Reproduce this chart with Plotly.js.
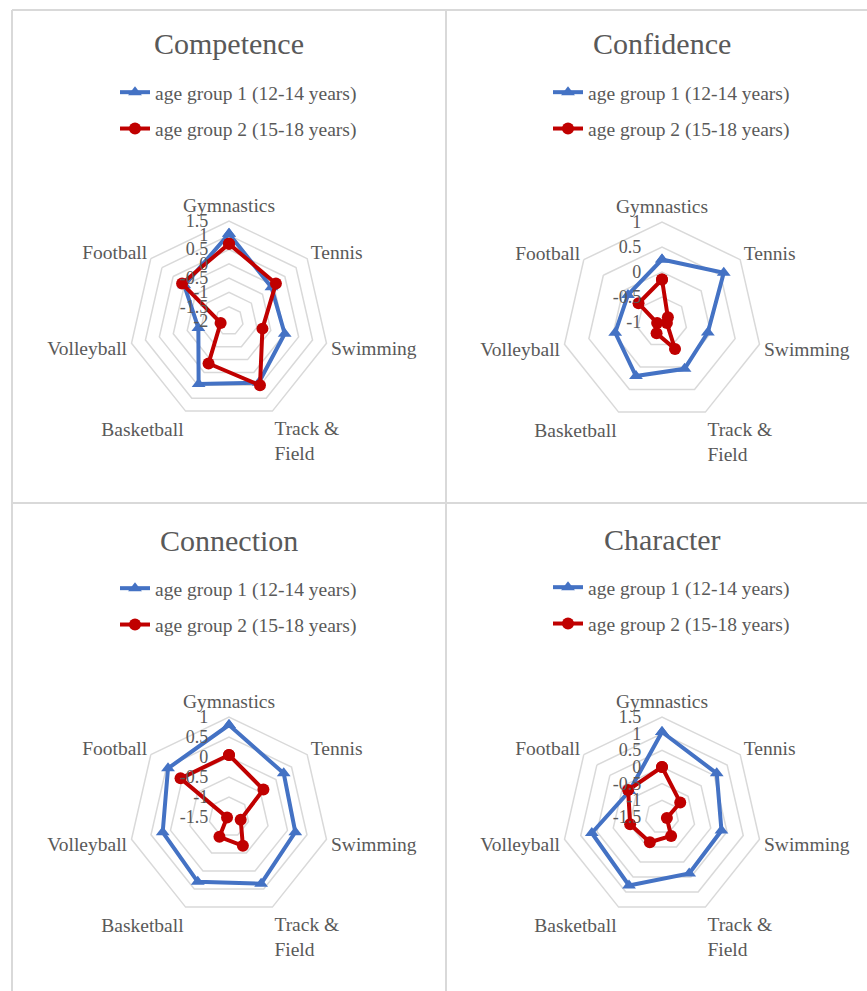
<!DOCTYPE html>
<html>
<head>
<meta charset="utf-8">
<script src="https://cdn.plot.ly/plotly-3.0.1.min.js"></script>
<style>
html,body{margin:0;padding:0;background:#fff;}
#chart{width:867px;height:991px;}
</style>
</head>
<body>
<div id="chart"></div>
<script>
// ---------- DATA ----------
const categories = ['Gymnastics', 'Tennis', 'Swimming', 'Track &<br>Field', 'Basketball', 'Volleyball', 'Football'];
const seriesNames = ['age group 1 (12-14 years)', 'age group 2 (15-18 years)'];
const chartTitles = ['Competence', 'Confidence', 'Connection', 'Character'];

const competenceG1 = [1.05, -0.1, 0.0, 0.4, 0.45, -0.9, 0.0];
const competenceG2 = [0.7, 0.1, -0.8, 0.5, -0.35, -1.7, 0.1];
const confidenceG1 = [0.25, 0.58, -0.06, 0.04, 0.2, -0.04, -0.13];
const confidenceG2 = [-0.15, -0.85, -0.9, -0.4, -0.75, -0.9, -0.4];
const connectionG1 = [0.8, 0.25, 0.2, 0.35, 0.3, 0.2, 0.45];
const connectionG2 = [0.05, -0.4, -1.2, -0.7, -0.95, -1.45, 0.05];
const characterG1 = [1.05, 0.6, 0.33, 0.38, 0.78, 0.66, -0.25];
const characterG2 = [0.0, -0.8, -1.35, -0.87, -0.66, -0.52, -0.2];

const competenceTicks = ['-2', '-1.5', '-1', '-0.5', '0', '0.5', '1', '1.5'];
const confidenceTicks = ['-1', '-0.5', '0', '0.5', '1'];
const connectionTicks = ['-1.5', '-1', '-0.5', '0', '0.5', '1'];
const characterTicks = ['-1.5', '-1', '-0.5', '0', '0.5', '1', '1.5'];

// ---------- LAYOUT HELPERS ----------
const W = 867, H = 991;
const FONT = 'Liberation Serif, Times New Roman, serif';
const TEXT = '#595959';
const GRID = '#d9d9d9';
const BLUE = '#4472C4';
const RED = '#C00000';

const panels = [
  {g1: competenceG1, g2: competenceG2, ticks: competenceTicks, cx: 229, cy: 321, ty: 44},
  {g1: confidenceG1, g2: confidenceG2, ticks: confidenceTicks, cx: 662, cy: 322, ty: 44},
  {g1: connectionG1, g2: connectionG2, ticks: connectionTicks, cx: 229, cy: 817, ty: 540},
  {g1: characterG1, g2: characterG2, ticks: characterTicks, cx: 662, cy: 817, ty: 539}
];
const R = 100;

function closed(a) { return a.concat([a[0]]); }
const px = x => x / W;
const py = y => 1 - y / H;

const data = [];
const layout = {
  width: W, height: H,
  margin: {l: 0, r: 0, t: 0, b: 0},
  paper_bgcolor: '#fff',
  showlegend: true,
  font: {family: FONT, color: TEXT, size: 19},
  annotations: [],
  shapes: []
};

panels.forEach((p, i) => {
  const pid = i === 0 ? 'polar' : 'polar' + (i + 1);
  const lid = i === 0 ? 'legend' : 'legend' + (i + 1);
  const tickvals = p.ticks.map(Number);
  // radial axis measured from its minimum (the centre of the radar), ticks relabelled with the true values
  const rmin = tickvals[0];
  const shift = v => v - rmin;
  layout[pid] = {
    domain: {x: [px(p.cx - R), px(p.cx + R)], y: [py(p.cy + R), py(p.cy - R)]},
    bgcolor: '#fff',
    gridshape: 'linear',
    angularaxis: {
      rotation: 90, direction: 'clockwise',
      showgrid: false, showline: true, linecolor: GRID, linewidth: 1.5,
      ticks: '', tickfont: {family: FONT, size: 19.5, color: TEXT}
    },
    radialaxis: {
      range: [0, shift(tickvals[tickvals.length - 1])],
      tickvals: tickvals.map(shift), ticktext: p.ticks,
      angle: 90, tickangle: 90, side: 'counterclockwise',
      showline: false, ticks: 'outside', ticklen: 14, tickcolor: 'rgba(0,0,0,0)',
      gridcolor: GRID, gridwidth: 1.5,
      tickfont: {family: FONT, size: 18, color: TEXT}
    }
  };
  layout[lid] = {
    x: px(p.cx - 114), xanchor: 'left',
    y: py(p.ty + 29), yanchor: 'top',
    bgcolor: 'rgba(0,0,0,0)',
    font: {family: FONT, size: 19.5, color: TEXT},
    tracegroupgap: 8
  };
  data.push({
    type: 'scatterpolar', subplot: pid, legend: lid, legendgroup: 'a' + i,
    name: seriesNames[0],
    r: closed(p.g1).map(shift), theta: closed(categories),
    customdata: closed(p.g1),
    mode: 'lines+markers',
    line: {color: BLUE, width: 4},
    marker: {symbol: 'triangle-up', size: 12, color: BLUE}
  });
  data.push({
    type: 'scatterpolar', subplot: pid, legend: lid, legendgroup: 'b' + i,
    name: seriesNames[1],
    r: closed(p.g2).map(shift), theta: closed(categories),
    customdata: closed(p.g2),
    mode: 'lines+markers',
    line: {color: RED, width: 4},
    marker: {symbol: 'circle', size: 12, color: RED}
  });
  layout.annotations.push({
    text: chartTitles[i], xref: 'paper', yref: 'paper',
    x: px(p.cx), y: py(p.ty), xanchor: 'center', yanchor: 'middle',
    showarrow: false, font: {family: FONT, size: 30, color: TEXT}
  });
});

// panel borders
const borderLines = [
  [12, 10, 867, 10], [12, 503, 867, 503], [12, 10, 12, 991], [446, 10, 446, 991]
];
borderLines.forEach(b => {
  layout.shapes.push({type: 'line', xref: 'paper', yref: 'paper',
    x0: px(b[0]), y0: py(b[1]), x1: px(b[2]), y1: py(b[3]),
    line: {color: GRID, width: 2}});
});

Plotly.newPlot('chart', data, layout, {staticPlot: true});
</script>
</body>
</html>
